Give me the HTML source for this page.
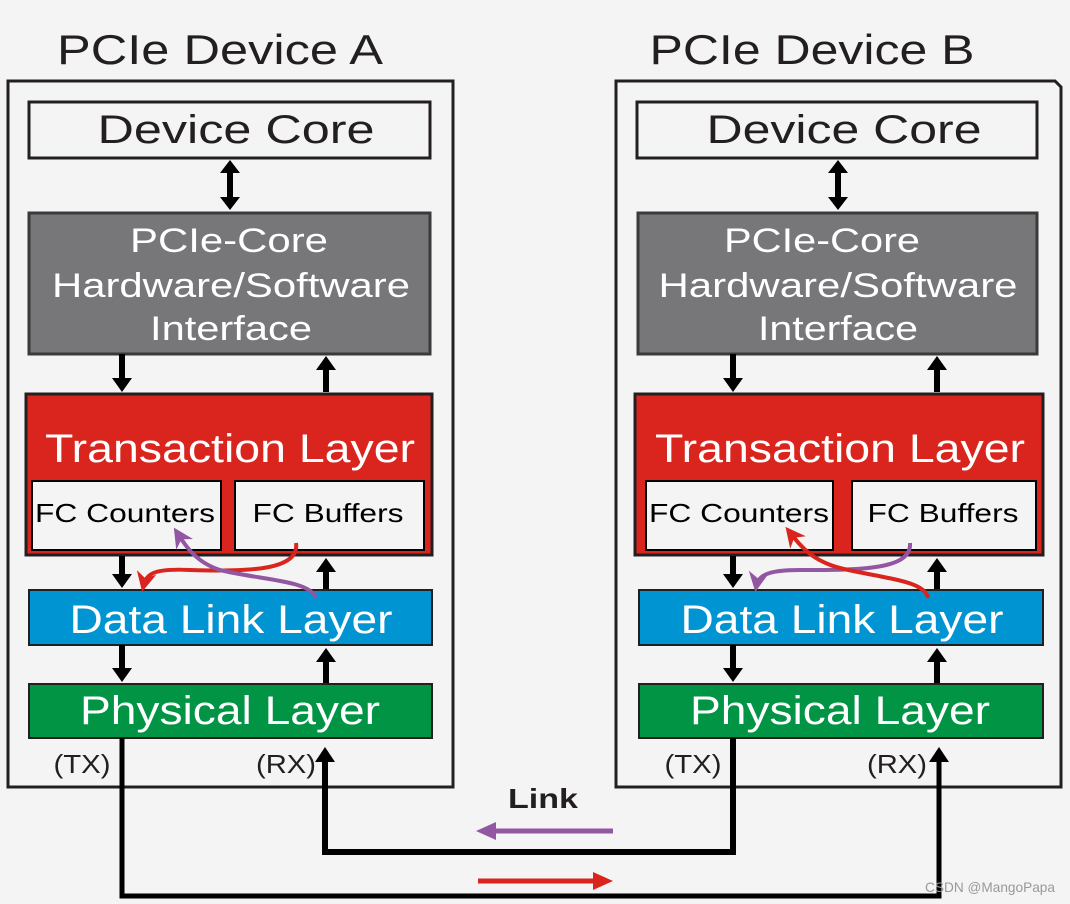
<!DOCTYPE html>
<html><head><meta charset="utf-8"><style>
html,body{margin:0;padding:0;background:#f4f4f4;}
svg{display:block;font-family:"Liberation Sans",Arial,sans-serif;}
</style></head><body>
<svg width="1070" height="904" viewBox="0 0 1070 904" xmlns="http://www.w3.org/2000/svg">
<defs>
<marker id="ahr" viewBox="0 0 10 10" refX="8" refY="5" markerWidth="5" markerHeight="5" orient="auto"><path d="M0,0L10,5L0,10L3,5z" fill="#d9251e"/></marker>
<marker id="ahp" viewBox="0 0 10 10" refX="8" refY="5" markerWidth="5" markerHeight="5" orient="auto"><path d="M0,0L10,5L0,10L3,5z" fill="#9356a3"/></marker>
</defs>
<rect width="1070" height="904" fill="#f4f4f4"/>

<text x="220" y="64" font-size="42" text-anchor="middle" fill="#231f20" textLength="326" lengthAdjust="spacingAndGlyphs">PCIe Device A</text>
<text x="812" y="64" font-size="42" text-anchor="middle" fill="#231f20" textLength="325" lengthAdjust="spacingAndGlyphs">PCIe Device B</text>

<!-- Device A -->
<rect x="8" y="81" width="445" height="706" fill="none" stroke="#231f20" stroke-width="3"/>
<rect x="29" y="102" width="401" height="56" fill="#f4f4f4" stroke="#231f20" stroke-width="3"/>
<text x="236" y="143" font-size="40" text-anchor="middle" fill="#231f20" textLength="277" lengthAdjust="spacingAndGlyphs">Device Core</text>
<line x1="230" y1="170" x2="230" y2="200" stroke="#000" stroke-width="6"/>
<path d="M220,173L230,160L240,173z M220,197L230,210L240,197z" fill="#000"/>
<rect x="29" y="213" width="401" height="141" fill="#77777a" stroke="#3a3a3a" stroke-width="3"/>
<text x="229" y="252" font-size="34" text-anchor="middle" fill="#fff" textLength="198" lengthAdjust="spacingAndGlyphs">PCIe-Core</text>
<text x="231" y="297" font-size="34" text-anchor="middle" fill="#fff" textLength="358" lengthAdjust="spacingAndGlyphs">Hardware/Software</text>
<text x="231" y="340" font-size="34" text-anchor="middle" fill="#fff" textLength="162" lengthAdjust="spacingAndGlyphs">Interface</text>
<line x1="122" y1="354" x2="122" y2="380" stroke="#000" stroke-width="6"/><path d="M112,378L122,392L132,378z" fill="#000"/>
<line x1="326" y1="392" x2="326" y2="368" stroke="#000" stroke-width="6"/><path d="M316,370L326,356L336,370z" fill="#000"/>
<rect x="26" y="394" width="406" height="161" fill="#d9251e" stroke="#231f20" stroke-width="3"/>
<text x="230" y="462" font-size="40" text-anchor="middle" fill="#fff" textLength="370" lengthAdjust="spacingAndGlyphs">Transaction Layer</text>
<rect x="32" y="481" width="189" height="69" fill="#f4f4f4" stroke="#000" stroke-width="2"/>
<rect x="235" y="481" width="189" height="69" fill="#f4f4f4" stroke="#000" stroke-width="2"/>
<text x="125" y="522" font-size="26" text-anchor="middle" fill="#000" textLength="180" lengthAdjust="spacingAndGlyphs">FC Counters</text>
<text x="328" y="522" font-size="26" text-anchor="middle" fill="#000" textLength="151" lengthAdjust="spacingAndGlyphs">FC Buffers</text>
<line x1="122" y1="556" x2="122" y2="576" stroke="#000" stroke-width="6"/><path d="M112,574L122,588L132,574z" fill="#000"/>
<line x1="326" y1="589" x2="326" y2="570" stroke="#000" stroke-width="6"/><path d="M316,572L326,558L336,572z" fill="#000"/>
<rect x="29" y="590" width="403" height="55" fill="#0094d2" stroke="#231f20" stroke-width="2"/>
<text x="231" y="633" font-size="40" text-anchor="middle" fill="#fff" textLength="323" lengthAdjust="spacingAndGlyphs">Data Link Layer</text>
<line x1="122" y1="645" x2="122" y2="670" stroke="#000" stroke-width="6"/><path d="M112,668L122,682L132,668z" fill="#000"/>
<line x1="326" y1="683" x2="326" y2="660" stroke="#000" stroke-width="6"/><path d="M316,662L326,648L336,662z" fill="#000"/>
<rect x="29" y="684" width="403" height="54" fill="#009444" stroke="#231f20" stroke-width="2"/>
<text x="230" y="724" font-size="40" text-anchor="middle" fill="#fff" textLength="300" lengthAdjust="spacingAndGlyphs">Physical Layer</text>
<text x="82" y="773" font-size="26" text-anchor="middle" fill="#231f20" textLength="57" lengthAdjust="spacingAndGlyphs">(TX)</text>
<text x="286" y="773" font-size="26" text-anchor="middle" fill="#231f20" textLength="60" lengthAdjust="spacingAndGlyphs">(RX)</text>
<path d="M296,543 C300,570 250,572 190,570 C150,568 146,575 143,588" fill="none" stroke="#d9251e" stroke-width="4" marker-end="url(#ahr)"/>
<path d="M316,598 C310,580 260,580 220,570 C195,562 185,545 176,531" fill="none" stroke="#9356a3" stroke-width="4" marker-end="url(#ahp)"/>

<!-- Device B -->
<path d="M616,81 L1055,81 L1061,87 L1061,787 L616,787 Z" fill="none" stroke="#231f20" stroke-width="3"/>
<rect x="637" y="102" width="400" height="56" fill="#f4f4f4" stroke="#231f20" stroke-width="3"/>
<text x="844" y="143" font-size="40" text-anchor="middle" fill="#231f20" textLength="275" lengthAdjust="spacingAndGlyphs">Device Core</text>
<line x1="838" y1="170" x2="838" y2="200" stroke="#000" stroke-width="6"/>
<path d="M828,173L838,160L848,173z M828,197L838,210L848,197z" fill="#000"/>
<rect x="638" y="213" width="399" height="141" fill="#77777a" stroke="#3a3a3a" stroke-width="3"/>
<text x="822" y="252" font-size="34" text-anchor="middle" fill="#fff" textLength="196" lengthAdjust="spacingAndGlyphs">PCIe-Core</text>
<text x="838" y="297" font-size="34" text-anchor="middle" fill="#fff" textLength="359" lengthAdjust="spacingAndGlyphs">Hardware/Software</text>
<text x="838" y="340" font-size="34" text-anchor="middle" fill="#fff" textLength="160" lengthAdjust="spacingAndGlyphs">Interface</text>
<line x1="733" y1="354" x2="733" y2="380" stroke="#000" stroke-width="6"/><path d="M723,378L733,392L743,378z" fill="#000"/>
<line x1="937" y1="392" x2="937" y2="368" stroke="#000" stroke-width="6"/><path d="M927,370L937,356L947,370z" fill="#000"/>
<rect x="635" y="394" width="408" height="161" fill="#d9251e" stroke="#231f20" stroke-width="3"/>
<text x="840" y="462" font-size="40" text-anchor="middle" fill="#fff" textLength="370" lengthAdjust="spacingAndGlyphs">Transaction Layer</text>
<rect x="646" y="481" width="187" height="69" fill="#f4f4f4" stroke="#000" stroke-width="2"/>
<rect x="852" y="481" width="184" height="69" fill="#f4f4f4" stroke="#000" stroke-width="2"/>
<text x="739" y="522" font-size="26" text-anchor="middle" fill="#000" textLength="180" lengthAdjust="spacingAndGlyphs">FC Counters</text>
<text x="943" y="522" font-size="26" text-anchor="middle" fill="#000" textLength="151" lengthAdjust="spacingAndGlyphs">FC Buffers</text>
<line x1="733" y1="556" x2="733" y2="576" stroke="#000" stroke-width="6"/><path d="M723,574L733,588L743,574z" fill="#000"/>
<line x1="937" y1="589" x2="937" y2="570" stroke="#000" stroke-width="6"/><path d="M927,572L937,558L947,572z" fill="#000"/>
<rect x="639" y="590" width="404" height="55" fill="#0094d2" stroke="#231f20" stroke-width="2"/>
<text x="842" y="633" font-size="40" text-anchor="middle" fill="#fff" textLength="323" lengthAdjust="spacingAndGlyphs">Data Link Layer</text>
<line x1="733" y1="645" x2="733" y2="670" stroke="#000" stroke-width="6"/><path d="M723,668L733,682L743,668z" fill="#000"/>
<line x1="937" y1="683" x2="937" y2="660" stroke="#000" stroke-width="6"/><path d="M927,662L937,648L947,662z" fill="#000"/>
<rect x="639" y="684" width="404" height="54" fill="#009444" stroke="#231f20" stroke-width="2"/>
<text x="840" y="724" font-size="40" text-anchor="middle" fill="#fff" textLength="300" lengthAdjust="spacingAndGlyphs">Physical Layer</text>
<text x="693" y="773" font-size="26" text-anchor="middle" fill="#231f20" textLength="57" lengthAdjust="spacingAndGlyphs">(TX)</text>
<text x="897" y="773" font-size="26" text-anchor="middle" fill="#231f20" textLength="60" lengthAdjust="spacingAndGlyphs">(RX)</text>
<path d="M910,543 C912,570 860,570 800,570 C765,570 758,576 756,588" fill="none" stroke="#9356a3" stroke-width="4" marker-end="url(#ahp)"/>
<path d="M928,598 C925,580 880,578 840,568 C810,560 800,545 788,530" fill="none" stroke="#d9251e" stroke-width="4" marker-end="url(#ahr)"/>

<!-- Link wires -->
<path d="M733,738 L733,852 L325,852 L325,758" fill="none" stroke="#000" stroke-width="6"/>
<path d="M315,762L325,747L335,762z" fill="#000"/>
<path d="M122,738 L122,896 L939,896 L939,758" fill="none" stroke="#000" stroke-width="5"/>
<path d="M929,762L939,747L949,762z" fill="#000"/>
<text x="543" y="808" font-size="28" font-weight="bold" text-anchor="middle" fill="#231f20" textLength="70" lengthAdjust="spacingAndGlyphs">Link</text>
<line x1="613" y1="831" x2="490" y2="831" stroke="#9356a3" stroke-width="5"/>
<path d="M476,831L496,822L496,840z" fill="#9356a3"/>
<line x1="478" y1="881" x2="600" y2="881" stroke="#d9251e" stroke-width="5"/>
<path d="M613,881L593,872L593,890z" fill="#d9251e"/>
<text x="925" y="892" font-size="14" fill="#999" textLength="130" lengthAdjust="spacingAndGlyphs">CSDN @MangoPapa</text>
</svg>
</body></html>
